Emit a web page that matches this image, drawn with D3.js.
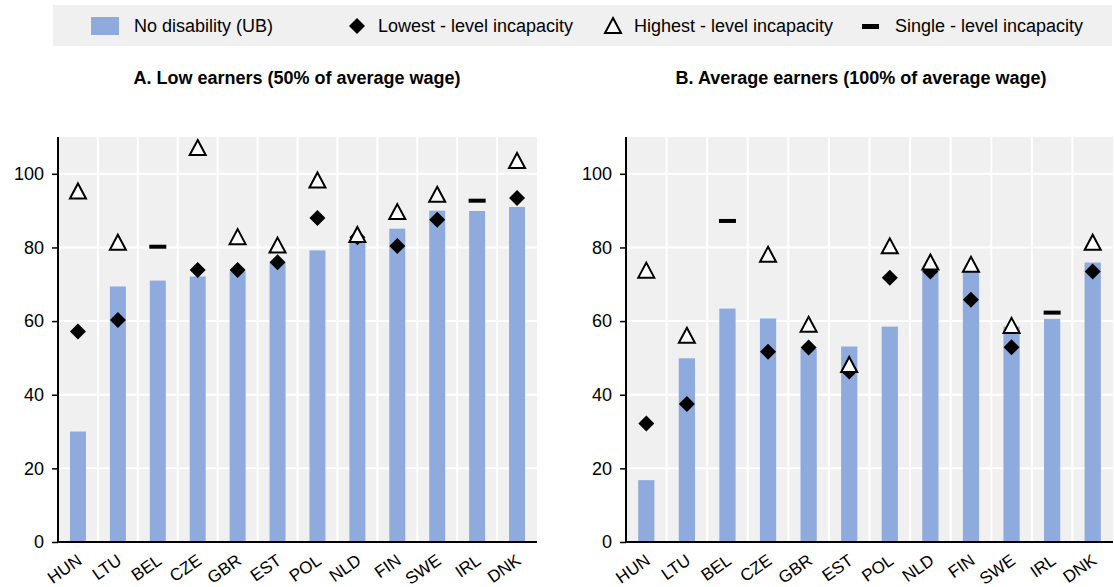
<!DOCTYPE html>
<html>
<head>
<meta charset="utf-8">
<script src="https://cdnjs.cloudflare.com/ajax/libs/d3/7.8.5/d3.min.js"></script>
<style>
  body { margin: 0; background: #fff; }
  text { font-family: "Liberation Sans", Arial, sans-serif; fill: #000; }
  .title { font-weight: bold; font-size: 18px; }
</style>
</head>
<body>
<div id="chart"></div>
<script>
// data
const countries = ["HUN","LTU","BEL","CZE","GBR","EST","POL","NLD","FIN","SWE","IRL","DNK"];

// A. low earners (50% of average wage)
const lowNoDis   = [30, 69.4, 71, 72.1, 73.5, 75.9, 79.2, 81.3, 85.1, 90, 89.9, 91];
const lowLowest  = [57.2, 60.3, null, 73.9, 73.9, 76, 88, 82.8, 80.4, 87.5, null, 93.4];
const lowHighest = [95.2, 81.3, null, 107, 82.8, 80.5, 98.2, 83.4, 89.6, 94.3, null, 103.5];
const lowSingle  = [null, null, 80.2, null, null, null, null, null, null, null, 92.7, null];

// B. average earners (100% of average wage)
const avgNoDis   = [16.8, 49.9, 63.4, 60.7, 52.5, 53.1, 58.5, 73.9, 73.5, 58.5, 60.6, 75.9];
const avgLowest  = [32.2, 37.5, null, 51.7, 52.8, 46.3, 71.8, 73.5, 65.8, 52.9, null, 73.5];
const avgHighest = [73.7, 56, null, 78, 59, 48.1, 80.3, 75.9, 75.3, 58.7, null, 81.3];
const avgSingle  = [null, null, 87.2, null, null, null, null, null, null, null, 62.3, null];

const yTicks = [0, 20, 40, 60, 80, 100];
const legendLabels = ["No disability (UB)", "Lowest - level incapacity", "Highest - level incapacity", "Single - level incapacity"];

const barColor = "#8faadc";
const plotBg = "#f0f0f0";

const svg = d3.select("#chart").append("svg")
  .attr("width", 1114)
  .attr("height", 587);

// legend
const leg = svg.append("g");
leg.append("rect").attr("x", 53).attr("y", 5).attr("width", 1059).attr("height", 41).attr("fill", plotBg);
const legX = [91, 349, 605, 862];
const legTextX = [134, 378, 634, 895];
const legY = 26;
leg.append("rect").attr("x", legX[0]).attr("y", legY - 9).attr("width", 28).attr("height", 18).attr("fill", barColor);
leg.append("path").attr("transform", `translate(${legX[1] + 8},${legY})`)
  .attr("d", "M0,-8L8,0L0,8L-8,0Z").attr("fill", "#000");
leg.append("path").attr("transform", `translate(${legX[2] + 8},${legY})`)
  .attr("d", "M0,-8L8,7L-8,7Z").attr("fill", "#fff").attr("stroke", "#000").attr("stroke-width", 2);
leg.append("rect").attr("x", legX[3]).attr("y", legY - 2).attr("width", 17).attr("height", 5).attr("fill", "#000");
legendLabels.forEach((t, i) => {
  leg.append("text").attr("x", legTextX[i]).attr("y", legY).attr("dy", "0.36em")
    .style("font-size", "18px").text(t);
});

function drawPanel(left, right, title, titleX, noDis, lowest, highest, single) {
  const top = 137, bottom = 542;
  const x = d3.scaleBand().domain(countries).range([left, right]).padding(0);
  const y = d3.scaleLinear().domain([0, 110]).range([bottom, top]);
  const g = svg.append("g");

  g.append("text").attr("class", "title").attr("x", titleX).attr("y", 78)
    .attr("text-anchor", "middle").attr("dy", "0.35em").text(title);

  g.append("rect").attr("x", left).attr("y", top).attr("width", right - left)
    .attr("height", bottom - top).attr("fill", plotBg);

  // grid
  g.selectAll("line.hg").data(yTicks.slice(1)).enter().append("line")
    .attr("x1", left).attr("x2", right)
    .attr("y1", d => y(d)).attr("y2", d => y(d))
    .attr("stroke", "#fff").attr("stroke-width", 2);
  g.selectAll("line.vg").data(countries.slice(1)).enter().append("line")
    .attr("x1", d => x(d)).attr("x2", d => x(d))
    .attr("y1", top).attr("y2", bottom)
    .attr("stroke", "#fff").attr("stroke-width", 2);

  // bars
  const bw = x.bandwidth() * 0.4;
  g.selectAll("rect.bar").data(countries).enter().append("rect")
    .attr("x", d => x(d) + (x.bandwidth() - bw) / 2)
    .attr("width", bw)
    .attr("y", (d, i) => y(noDis[i]))
    .attr("height", (d, i) => bottom - y(noDis[i]))
    .attr("fill", barColor);

  const cx = d => x(d) + x.bandwidth() / 2;

  g.selectAll("path.dia").data(countries.filter((d, i) => lowest[i] != null)).enter().append("path")
    .attr("transform", d => `translate(${cx(d)},${y(lowest[countries.indexOf(d)])})`)
    .attr("d", "M0,-8L8,0L0,8L-8,0Z").attr("fill", "#000");

  g.selectAll("path.tri").data(countries.filter((d, i) => highest[i] != null)).enter().append("path")
    .attr("transform", d => `translate(${cx(d)},${y(highest[countries.indexOf(d)])})`)
    .attr("d", "M0,-8L8,7L-8,7Z").attr("fill", "#fff").attr("stroke", "#000").attr("stroke-width", 2);

  g.selectAll("rect.single").data(countries.filter((d, i) => single[i] != null)).enter().append("rect")
    .attr("x", d => cx(d) - 8.5).attr("width", 17)
    .attr("y", d => y(single[countries.indexOf(d)]) - 2).attr("height", 4)
    .attr("fill", "#000");

  // y axis
  const yAxis = g.append("g").attr("transform", `translate(${left},0)`)
    .call(d3.axisLeft(y).tickValues(yTicks).tickSize(6).tickPadding(8));
  yAxis.select(".domain").attr("stroke", "#000").attr("stroke-width", 2)
    .attr("d", `M0,${top}V${bottom}`);
  yAxis.selectAll(".tick line").attr("stroke", "#000").attr("stroke-width", 1.5);
  yAxis.selectAll(".tick text").style("font-size", "18px").attr("font-family", null);

  // x axis
  g.append("line").attr("x1", left - 1).attr("x2", right).attr("y1", bottom).attr("y2", bottom)
    .attr("stroke", "#000").attr("stroke-width", 2);
  g.selectAll("text.xl").data(countries).enter().append("text")
    .attr("transform", d => `translate(${cx(d) + 5},${bottom + 21}) rotate(-35)`)
    .attr("text-anchor", "end")
    .style("font-size", "17px").text(d => d);
}

drawPanel(58, 537, "A. Low  earners (50% of average wage)", 297, lowNoDis, lowLowest, lowHighest, lowSingle);
drawPanel(626, 1113, "B. Average earners (100% of average wage)", 861, avgNoDis, avgLowest, avgHighest, avgSingle);
</script>
</body>
</html>
